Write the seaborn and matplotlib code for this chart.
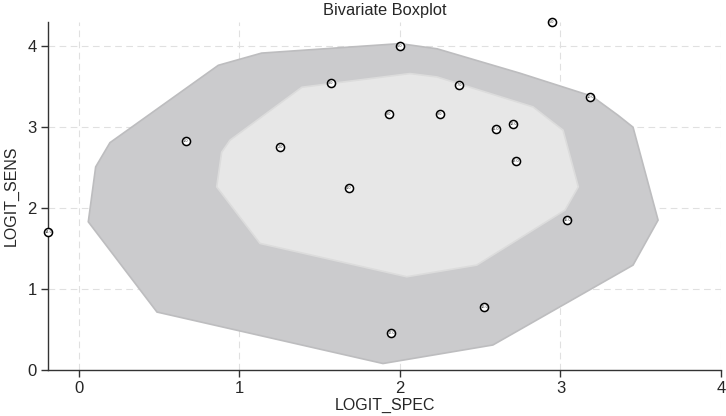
import numpy as np
import pandas as pd
import seaborn as sns
import matplotlib.pyplot as plt

# study points (logit specificity, logit sensitivity)
study_id = list(range(1, 18))
logit_spec = [0.665, 1.254, 1.570, 1.682, 2.945, 2.000, 2.368, 1.931, 2.249,
              3.184, 2.596, 2.706, 2.721, -0.191, 3.042, 2.525, 1.944]
logit_sens = [2.830, 2.753, 3.547, 2.255, 4.296, 4.000, 3.519, 3.160, 3.169,
              3.379, 2.979, 3.037, 2.584, 1.700, 1.848, 0.782, 0.457]

# outer "fence" polygon
fence_x = [0.058, 0.104, 0.193, 0.868, 1.138, 2.000, 2.231, 2.748, 3.196,
           3.358, 3.452, 3.608, 3.452, 2.579, 1.894, 0.486]
fence_y = [1.831, 2.510, 2.809, 3.765, 3.916, 4.033, 3.969, 3.667, 3.383,
           3.148, 3.000, 1.852, 1.296, 0.309, 0.080, 0.716]

# inner "hinge" polygon
hinge_x = [0.858, 0.889, 0.941, 1.389, 2.062, 2.231, 2.829, 3.016, 3.111,
           3.028, 2.478, 2.042, 1.128]
hinge_y = [2.263, 2.691, 2.840, 3.494, 3.663, 3.621, 3.251, 2.963, 2.263,
           1.975, 1.296, 1.152, 1.564]

df = pd.DataFrame({"LOGIT_SPEC": logit_spec, "LOGIT_SENS": logit_sens, "id": study_id})

sns.set_theme(style="ticks")
plt.rcParams["font.family"] = ["Liberation Sans", "DejaVu Sans"]

fig = plt.figure(figsize=(7.26, 4.16), dpi=100)
ax = fig.add_axes([48 / 726, 46 / 416, 673 / 726, 348 / 416])

ax.set_axisbelow(True)
for v in [0, 1, 2, 3, 4]:
    ax.axvline(v, color="#e0e0e0", lw=0.8, ls=(0, (6, 4)), zorder=0)
for v in [1, 2, 3, 4]:
    ax.axhline(v, color="#e0e0e0", lw=0.8, ls=(0, (6, 4)), zorder=0)

ax.fill(fence_x, fence_y, facecolor="#cbcbcd", edgecolor="#bdbdbf", lw=1.2, zorder=1)
ax.fill(hinge_x, hinge_y, facecolor="#e7e7e7", edgecolor="#dcdcdc", lw=1.2, zorder=2)

sns.scatterplot(data=df, x="LOGIT_SPEC", y="LOGIT_SENS", ax=ax, s=34,
                color="white", edgecolor="black", linewidth=1.1, zorder=3,
                clip_on=False, legend=False)
for _, r in df.iterrows():
    ax.text(r.LOGIT_SPEC, r.LOGIT_SENS, str(r.id), fontsize=2.8, ha="center",
            va="center", color="#333333", zorder=4, clip_on=False)

ax.set_xlim(-0.193, 4.0)
ax.set_ylim(0, 4.3)
ax.set_xticks([0, 1, 2, 3, 4])
ax.set_yticks([0, 1, 2, 3, 4])
ax.tick_params(labelsize=12, length=5, width=1, color="#333333", pad=3)

for s in ["top", "right"]:
    ax.spines[s].set_visible(False)
for s in ["left", "bottom"]:
    ax.spines[s].set_color("#333333")
    ax.spines[s].set_linewidth(1)

ax.set_xlabel("LOGIT_SPEC", fontsize=11.5, labelpad=1)
ax.set_ylabel("LOGIT_SENS", fontsize=11.5, labelpad=6)
ax.set_title("Bivariate Boxplot", fontsize=11.8, pad=5)

fig.savefig("out.png", dpi=100)
